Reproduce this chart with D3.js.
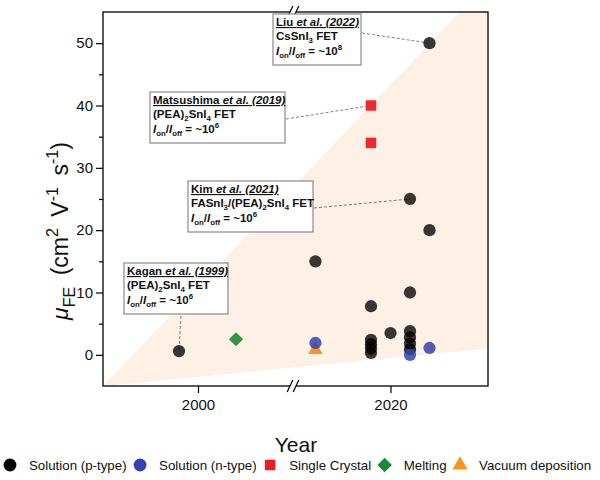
<!DOCTYPE html>
<html><head><meta charset="utf-8">
<script src="https://cdn.jsdelivr.net/npm/d3@7"></script>
<style>
body{margin:0;background:#fff;}
svg{display:block;font-family:"Liberation Sans",Arial,sans-serif;}
</style>
</head><body>
<svg id="chart" width="600" height="480"></svg>
<script>
// ---------------- data ----------------
const pTypeYears    = [1998, 2012.3, 2018, 2018, 2018, 2018, 2018, 2020, 2022, 2022, 2022, 2022, 2022, 2022, 2024, 2024];
const pTypeMobility = [0.6,  15,     7.8,  2.4,  1.7,  1.0,  0.3,  3.5,  25,   10,   3.8,  2.8,  1.8,  0.9,  20,   50];
const nTypeYears    = [2012.3, 2022, 2024];
const nTypeMobility = [1.9,    0.0,  1.1];
const crystalYears    = [2018, 2018];
const crystalMobility = [40,   34];
const meltingYears    = [2004];
const meltingMobility = [2.5];
const vacuumYears     = [2012.3];
const vacuumMobility  = [0.8];

const yTicks = [0, 10, 20, 30, 40, 50];
const yMinorTicks = [5, 15, 25, 35, 45];
const xTicks = [2000, 2020];
const xTickLabels = ["2000", "2020"];
const seriesNames = ["Solution (p-type)", "Solution (n-type)", "Single Crystal", "Melting", "Vacuum deposition"];

// annotation content
const annAuthors = ["Kagan", "Matsushima", "Kim", "Liu"];
const annYears = ["(1999)", "(2019)", "(2021)", "(2022)"];
const annDevices = [
  [["(PEA)",""],["2","sub"],["SnI",""],["4","sub"],[" FET",""]],
  [["(PEA)",""],["2","sub"],["SnI",""],["4","sub"],[" FET",""]],
  [["FASnI",""],["3","sub"],["/(PEA)",""],["2","sub"],["SnI",""],["4","sub"],[" FET",""]],
  [["CsSnI",""],["3","sub"],[" FET",""]]
];
const annRatioExp = ["6", "6", "6", "8"];
const annTargetYear = [1998, 2018, 2022, 2024];
const annTargetMob  = [0.6, 40, 25, 50];

// shaded region (data coords)
const shadeYears = [1990, 2027.1, 2030, 2030];
const shadeMob   = [-5, 55, 55, 1.0];

// ---------------- layout ----------------
const L = 103, R = 488, T = 12, B = 386;
const svg = d3.select("#chart");
const x = d3.scaleLinear().domain([1990, 2010, 2030]).range([L, 293, R]);
const y = d3.scaleLinear().domain([-5, 55]).range([B, T]);

const colors = {p:"#000000", n:"#3444ad", c:"#ee1c25", m:"#1a8a3a", v:"#f7941d"};

// shading
svg.append("path")
  .attr("d", d3.line()(shadeYears.map((yr,i)=>[x(yr), y(shadeMob[i])])) + "Z")
  .attr("fill", "#fdf0e4");

// frame
svg.append("rect").attr("x", L).attr("y", T).attr("width", R-L).attr("height", B-T)
  .attr("fill","none").attr("stroke","#000").attr("stroke-width",1.3);

// y axis ticks
const yAxis = d3.axisLeft(y).tickValues(yTicks).tickSize(7).tickPadding(3).tickFormat(d3.format("d"));
const gy = svg.append("g").attr("transform", `translate(${L},0)`).call(yAxis);
gy.select(".domain").remove();
gy.selectAll("text").attr("font-size", 15).attr("font-family", "Liberation Sans, Arial, sans-serif").attr("fill","#111");
gy.selectAll("line").attr("stroke-width", 1.2);
const yMinor = d3.axisLeft(y).tickValues(yMinorTicks).tickSize(4).tickFormat("");
const gym = svg.append("g").attr("transform", `translate(${L},0)`).call(yMinor);
gym.select(".domain").remove();
gym.selectAll("line").attr("stroke-width", 1.2);

// x axis ticks
const xAxis = d3.axisBottom(x).tickValues(xTicks).tickSize(7).tickPadding(6).tickFormat((d,i)=>xTickLabels[i]);
const gx = svg.append("g").attr("transform", `translate(0,${B})`).call(xAxis);
gx.select(".domain").remove();
gx.selectAll("text").attr("font-size", 15).attr("font-family", "Liberation Sans, Arial, sans-serif").attr("fill","#111");
gx.selectAll("line").attr("stroke-width", 1.2);

// axis breaks
[T, B].forEach(yy => {
  const bx = x(2010);
  svg.append("rect").attr("x", bx-3).attr("y", yy-1.5).attr("width", 6).attr("height", 3).attr("fill", "#fff");
  [-3, 3].forEach(dx => {
    svg.append("line").attr("x1", bx+dx-2.8).attr("y1", yy+6).attr("x2", bx+dx+2.8).attr("y2", yy-6)
      .attr("stroke","#000").attr("stroke-width",1.2);
  });
});

// rich text helper
function rich(sel, segs, fs, ratio) {
  ratio = ratio || 0.68;
  let off = 0;
  segs.forEach(([t,k]) => {
    const target = k==="sub" ? fs*0.3 : (k==="sup" ? -fs*0.42 : 0);
    const ts = sel.append("tspan").text(t);
    if (target - off !== 0) ts.attr("dy", target - off);
    off = target;
    if (k==="sub" || k==="sup") ts.attr("font-size", fs*ratio);
    if (k==="i") ts.attr("font-style","italic");
  });
}

// annotation boxes (layout)
const boxX = [124, 150, 188, 273];
const boxY = [263, 92, 181, 14];
const boxW = [104, 135, 125, 88];
const boxH = 51;
const leadFrom = [[181, 316], [286, 119], [314, 208], [362, 33]];

annAuthors.forEach((a, i) => {
  svg.append("line")
    .attr("x1", leadFrom[i][0]).attr("y1", leadFrom[i][1])
    .attr("x2", x(annTargetYear[i])).attr("y2", y(annTargetMob[i]))
    .attr("stroke","#808080").attr("stroke-width",1).attr("stroke-dasharray","3,2");
  const g = svg.append("g").attr("transform", `translate(${boxX[i]},${boxY[i]})`);
  g.append("rect").attr("width", boxW[i]).attr("height", boxH)
    .attr("fill","#fff").attr("stroke","#8a8a8a").attr("stroke-width",1.2);
  const fs = 11.5;
  const t1 = g.append("text").attr("x", 3).attr("y", 12).attr("font-size", fs).attr("font-weight","bold")
    .attr("text-decoration","underline").attr("fill","#111");
  t1.append("tspan").text(a + " ");
  t1.append("tspan").attr("font-style","italic").text("et al. " + annYears[i]);
  const t2 = g.append("text").attr("x", 3).attr("y", 26).attr("font-size", fs).attr("font-weight","bold").attr("fill","#111");
  rich(t2, annDevices[i], fs);
  const t3 = g.append("text").attr("x", 3).attr("y", 41).attr("font-size", fs).attr("font-weight","bold").attr("fill","#111");
  rich(t3, [["I","i"],["on","sub"],["/",""],["I","i"],["off","sub"],[" = ~10",""],[annRatioExp[i],"sup"]], fs);
});

// markers
const sym = (type, size) => d3.symbol().type(type).size(size)();
function plotSeries(xs, ys, type, size, color, opacity, rot) {
  svg.append("g").selectAll("path").data(xs).join("path")
    .attr("d", sym(type, size))
    .attr("transform", (d,i)=>`translate(${x(d)},${y(ys[i])})` + (rot ? ` rotate(${rot})` : ""))
    .attr("fill", color).attr("fill-opacity", opacity);
}
plotSeries(vacuumYears, vacuumMobility, d3.symbolTriangle, 90, colors.v, 1, 0);
plotSeries(pTypeYears, pTypeMobility, d3.symbolCircle, 118, colors.p, 0.78, 0);
plotSeries(nTypeYears, nTypeMobility, d3.symbolCircle, 118, colors.n, 0.85, 0);
plotSeries(crystalYears, crystalMobility, d3.symbolSquare, 110, colors.c, 0.95, 0);
plotSeries(meltingYears, meltingMobility, d3.symbolSquare, 100, colors.m, 0.9, 45);

// axis titles
svg.append("text").attr("x", 296).attr("y", 452).attr("text-anchor","middle")
  .attr("font-size", 21).attr("fill","#111").text("Year");
const yt = svg.append("text").attr("transform","translate(68,231) rotate(-90)")
  .attr("text-anchor","middle").attr("font-size", 23).attr("word-spacing", 5).attr("fill","#111");
rich(yt, [["μ","i"],["FE","sub"],["  (cm",""],["2","sup"],[" V",""],["-1","sup"],[" s",""],["-1","sup"],[")",""]], 23, 0.7);

// legend
const legendTypes = [
  [d3.symbolCircle, 130, colors.p, 0],
  [d3.symbolCircle, 130, colors.n, 0],
  [d3.symbolSquare, 110, colors.c, 0],
  [d3.symbolSquare, 105, colors.m, 45],
  [d3.symbolTriangle, 100, colors.v, 0]
];
let lx = 10;
const ly = 465;
seriesNames.forEach((name, i) => {
  const [tp, sz, col, rot] = legendTypes[i];
  svg.append("path").attr("d", sym(tp, sz))
    .attr("transform", `translate(${lx},${ly})` + (rot ? ` rotate(${rot})` : ""))
    .attr("fill", col);
  const t = svg.append("text").attr("x", lx + 19).attr("y", ly + 4.7)
    .attr("font-size", 13.3).attr("fill","#111").text(name);
  lx = lx + 19 + t.node().getComputedTextLength() + 13.5;
});
</script>
</body></html>
